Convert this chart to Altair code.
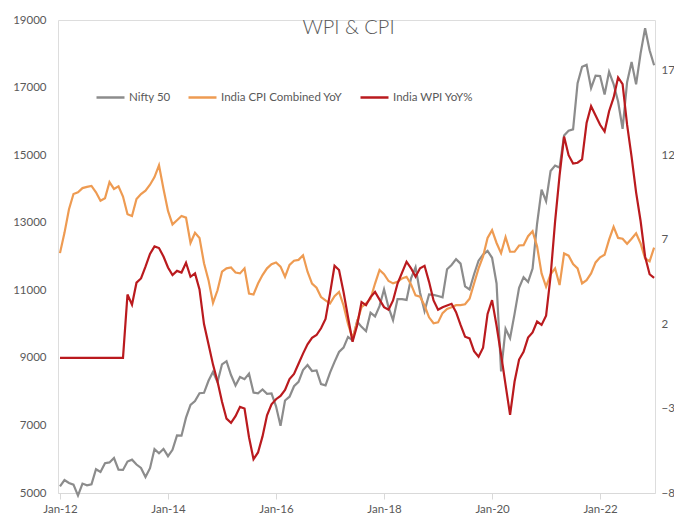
import altair as alt
import pandas as pd

# month index 0 = Jan-2012 ... 132 = Jan-2023
nifty = [5199, 5385, 5296, 5248, 4924, 5279, 5229, 5259, 5703, 5620, 5880, 5905,
         6035, 5693, 5683, 5930, 5986, 5842, 5742, 5471, 5735, 6299, 6176, 6304,
         6090, 6277, 6704, 6696, 7230, 7611, 7721, 7954, 7965, 8322, 8588, 8283,
         8809, 8902, 8491, 8182, 8434, 8369, 8533, 7971, 7949, 8066, 7935, 7946,
         7564, 6987, 7738, 7850, 8160, 8288, 8639, 8786, 8611, 8626, 8224, 8186,
         8561, 8880, 9174, 9304, 9621, 9521, 10077, 9918, 9789, 10335, 10227, 10531,
         11028, 10493, 10114, 10739, 10736, 10714, 11357, 11681, 10930, 10387, 10877, 10863,
         10831, 10793, 11624, 11748, 11923, 11789, 11118, 11023, 11474, 11877, 12056, 12168,
         11962, 11202, 8598, 9860, 9580, 10302, 11073, 11388, 11248, 11642, 12969, 13982,
         13635, 14529, 14691, 14631, 15583, 15722, 15763, 17132, 17618, 17672, 16983, 17354,
         17340, 16794, 17465, 17103, 16585, 15780, 17158, 17759, 17094, 18012, 18758, 18105,
         17662]

cpi = [6.2, 7.4, 8.8, 9.7, 9.8, 10.05, 10.12, 10.18, 9.8, 9.3, 9.45, 10.4,
       10.0, 10.15, 9.55, 8.5, 8.4, 9.4, 9.7, 9.9, 10.25, 10.7, 11.4, 10.0,
       8.7, 7.9, 8.15, 8.4, 8.3, 6.8, 7.4, 7.1, 5.6, 4.6, 3.25, 4.0,
       5.1, 5.3, 5.35, 5.05, 5.0, 5.3, 3.8, 3.75, 4.4, 4.9, 5.3, 5.55,
       5.65, 5.4, 4.8, 5.5, 5.75, 5.8, 6.07, 5.1, 4.4, 4.15, 3.6, 3.4,
       3.22, 3.65, 3.9, 3.1, 2.0, 1.15, 2.1, 3.0, 3.22, 3.5, 4.4, 5.2,
       4.95, 4.55, 4.41, 4.5, 4.7, 4.8, 4.35, 3.7, 3.62, 3.1, 2.4, 2.05,
       2.1, 2.65, 2.9, 3.0, 3.12, 3.12, 3.17, 3.5, 4.4, 5.3, 6.0, 7.1,
       7.56, 6.8, 6.2, 7.15, 6.28, 6.28, 6.65, 6.67, 7.2, 7.5, 6.6, 5.0,
       4.21, 4.95, 5.3, 4.31, 6.18, 6.05, 5.55, 5.3, 4.41, 4.6, 5.0, 5.65,
       5.95, 6.1, 7.0, 7.75, 7.1, 7.05, 6.75, 7.05, 7.37, 6.77, 5.88, 5.72,
       6.52]

wpi = [0, 0, 0, 0, 0, 0, 0, 0, 0, 0, 0, 0,
       0, 0, 0, 3.75, 3.15, 4.45, 4.7, 5.4, 6.15, 6.6, 6.5, 6.0,
       5.35, 4.9, 5.15, 5.05, 5.63, 4.8, 5.0, 4.05, 2.0, 0.8, -0.4, -1.4,
       -2.6, -3.6, -3.85, -3.45, -2.9, -3.0, -4.7, -6.0, -5.6, -4.65, -3.4, -2.75,
       -2.45, -2.25, -1.9, -1.25, -0.95, -0.35, 0.25, 0.8, 1.18, 1.35, 1.75, 2.3,
       3.82, 5.45, 5.2, 3.9, 2.4, 0.95, 1.9, 3.3, 3.12, 3.6, 3.9, 3.45,
       3.0, 2.85, 3.4, 4.4, 5.05, 5.69, 5.3, 4.8, 5.3, 5.45, 4.5, 3.4,
       2.85, 3.0, 3.1, 3.2, 2.7, 1.95, 1.25, 1.15, 0.4, 0.07, 0.6, 2.6,
       3.42, 1.9, 0.2, -1.6, -3.38, -1.4, -0.1, 0.36, 1.2, 1.5, 2.15, 1.95,
       2.5, 4.83, 8.06, 10.8, 13.1, 12.0, 11.5, 11.55, 11.75, 13.9, 14.9, 14.35,
       13.8, 13.4, 14.6, 15.4, 16.6, 16.2, 13.8, 11.9, 9.8, 8.1, 6.0, 4.95,
       4.73]

series_names = ["Nifty 50", "India CPI Combined YoY", "India WPI YoY%"]
series_colors = ["#8C8C8C", "#EE9B52", "#BA1A1E"]

x_tick_months = [0, 24, 48, 72, 96, 120]
x_tick_labels = ["Jan-12", "Jan-14", "Jan-16", "Jan-18", "Jan-20", "Jan-22"]
left_ticks = [5000, 7000, 9000, 11000, 13000, 15000, 17000, 19000]
right_ticks = [-8, -3, 2, 7, 12, 17]

months = list(range(len(nifty)))
df_n = pd.DataFrame({"m": months, "v": nifty, "s": series_names[0]})
df_r = pd.concat([
    pd.DataFrame({"m": months, "v": cpi, "s": series_names[1]}),
    pd.DataFrame({"m": months, "v": wpi, "s": series_names[2]}),
], ignore_index=True)

FONT = "Lato"
TXT = "#595959"

label_expr = "[" + ",".join("'%s'" % t for t in x_tick_labels) + "][round(datum.value/24)]"

x_enc = alt.X("m:Q",
              scale=alt.Scale(domain=[-0.44, 132.2], nice=False, zero=False),
              axis=alt.Axis(values=x_tick_months, labelExpr=label_expr, title=None,
                            grid=False, gridOpacity=0, domain=True,
                            domainColor="#D9D9D9", ticks=True, tickColor="#D9D9D9",
                            tickSize=6, labelFont=FONT, labelFontSize=11.5,
                            labelColor=TXT, labelPadding=4))

color_scale = alt.Scale(domain=series_names, range=series_colors)
legend = alt.Legend(orient="none", legendX=37, legendY=62, direction="horizontal",
                    title=None, symbolType="stroke", symbolSize=784,
                    symbolStrokeWidth=2.5, labelFont=FONT, labelFontSize=11.5,
                    labelColor=TXT, labelOffset=3, columnPadding=12)

left = alt.Chart(df_n).mark_line(strokeWidth=2.2).encode(
    x=x_enc,
    y=alt.Y("v:Q", scale=alt.Scale(domain=[5000, 19000], nice=False, zero=False),
            axis=alt.Axis(values=left_ticks, format="d", title=None, grid=False,
                          gridOpacity=0, domain=False, domainOpacity=0,
                          domainColor="white", ticks=False, labelFont=FONT,
                          labelFontSize=11.5, labelColor=TXT, labelPadding=12,
                          orient="left")),
    color=alt.Color("s:N", scale=color_scale, legend=legend),
)

right = alt.Chart(df_r).mark_line(strokeWidth=2.2).encode(
    x=x_enc,
    y=alt.Y("v:Q", scale=alt.Scale(domain=[-8, 20], nice=False, zero=False),
            axis=alt.Axis(values=right_ticks, format="d", title=None, grid=False,
                          gridOpacity=0, domain=False, domainOpacity=0,
                          domainColor="white", ticks=False, labelFont=FONT,
                          labelFontSize=11.5, labelColor=TXT, labelPadding=6,
                          orient="right")),
    color=alt.Color("s:N", scale=color_scale, legend=legend),
)

chart = alt.layer(left, right).resolve_scale(
    y="independent"
).properties(
    width=597,
    height=473,
    autosize=alt.AutoSizeParams(type="none"),
    padding={"left": 50, "top": 12, "right": 19, "bottom": 25},
    title=alt.TitleParams("WPI & CPI", font=FONT, fontSize=20, fontWeight=300,
                          color=TXT, anchor="middle", dx=-8, offset=-24),
).configure_view(strokeWidth=0, stroke="transparent").configure_axisY(
    domain=False, grid=False
).configure(background="white")

chart.save("out.html", embed_options={"renderer": "svg", "actions": False})
